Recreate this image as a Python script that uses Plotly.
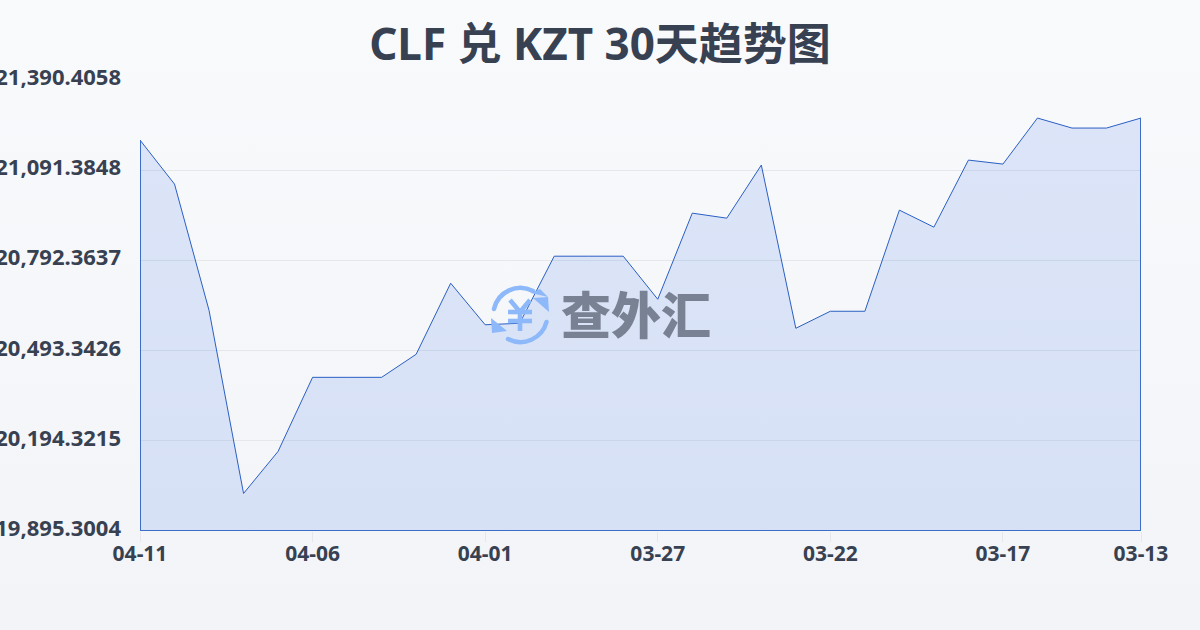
import base64
import plotly.graph_objects as go

dates = ["04-11","04-10","04-09","04-08","04-07","04-06","04-05","04-04","04-03","04-02",
         "04-01","03-31","03-30","03-29","03-28","03-27","03-26","03-25","03-24","03-23",
         "03-22","03-21","03-20","03-19","03-18","03-17","03-16","03-15","03-14","03-13"]
values = [21192.72,21046.53,20627.91,20019.89,20159.44,20405.30,20405.30,20405.30,20481.72,20717.61,
          20579.73,20584.71,20807.31,20807.31,20807.31,20664.45,20950.18,20933.56,21109.66,20568.10,
          20624.58,20624.58,20960.15,20903.66,21126.27,21112.98,21265.82,21232.59,21232.59,21265.82]
y_ticks = [19895.3004,20194.3215,20493.3426,20792.3637,21091.3848,21390.4058]
x_ticks = ["04-11","04-06","04-01","03-27","03-22","03-17","03-13"]
title_text = "CLF 兑 KZT 30天趋势图"
watermark = "查外汇"

def uri(svg):
    return "data:image/svg+xml;base64," + base64.b64encode(svg.encode()).decode()

bg = uri('<svg xmlns="http://www.w3.org/2000/svg" width="1200" height="630" preserveAspectRatio="none">'
         '<defs><linearGradient id="g" x1="0" y1="0" x2="0" y2="1"><stop offset="0" stop-color="#f9fafc"/>'
         '<stop offset="1" stop-color="#f2f4f7"/></linearGradient></defs><rect width="1200" height="630" fill="url(#g)"/></svg>')
logo = uri('<svg xmlns="http://www.w3.org/2000/svg" width="60" height="60" viewBox="0 0 60 60">'
           '<g fill="none" stroke="#8db8fa" stroke-width="4.5" stroke-linecap="round">'
           '<path d="M4 24 A27 27 0 0 1 43 6"/><path d="M56.5 37 A27 27 0 0 1 18 54"/>'
           '<g stroke-width="4.6" stroke-linecap="butt"><path d="M20 15 L30 27 L40 15"/><path d="M18 27 H42"/><path d="M18 36 H42"/><path d="M30 27 V46"/></g></g>'
           '<path d="M43 13 L59 27 L58 12 Z M41 8 L58 12 L50 4 Z" fill="#8db8fa"/>'
           '<path d="M17 46 L1 33 L2 48 Z" fill="#8db8fa"/></svg>')

# margins leave a 1001x451 paper box; the y domain puts the plot top on a half pixel
L, T, W, H = 140, 80, 1001, 451
px = lambda x: (x - L) / W
py = lambda y: 1 - (y - T) / H

fig = go.Figure()
fig.add_trace(go.Scatter(
    x=dates + [dates[-1], dates[0], dates[0]],
    y=values + [y_ticks[0], y_ticks[0], values[0]],
    mode="lines", fill="toself",
    line=dict(color="#2a5fc4", width=1, simplify=False),
    fillcolor="rgba(37,99,235,0.135)",
    hoverinfo="skip", showlegend=False,
))
# closing edges of the area sit on the plot boundary, where half the stroke is clipped
fig.add_trace(go.Scatter(
    x=[dates[-1], dates[-1], dates[0], dates[0]],
    y=[values[-1], y_ticks[0], y_ticks[0], values[0]],
    mode="lines", line=dict(color="#3c6dc9", width=2, simplify=False),
    hoverinfo="skip", showlegend=False,
))
FONT = "'Noto Sans', 'Noto Sans CJK SC', sans-serif"
fig.update_layout(
    width=1200, height=630, autosize=False,
    margin=dict(l=L, r=1200 - L - W, t=T, b=630 - T - H),
    paper_bgcolor="#f5f7fa", plot_bgcolor="rgba(0,0,0,0)",
    title=dict(text=title_text, x=0.5, xanchor="center", y=0.929, yanchor="middle",
               font=dict(family=FONT, size=44, weight=700, color="#374151")),
    xaxis=dict(type="category", categoryorder="array", categoryarray=dates, range=[0, len(dates) - 1],
               tickmode="array", tickvals=x_ticks, ticktext=x_ticks, automargin=False,
               ticks="outside", ticklen=10, tickcolor="#e5e7eb", tickwidth=1, ticklabelstandoff=-6,
               showgrid=False, showline=False, zeroline=False,
               tickfont=dict(family=FONT, size=21, weight=700, color="#374151")),
    yaxis=dict(range=[y_ticks[0], y_ticks[-1]], tickmode="array", tickvals=y_ticks, automargin=False,
               domain=[0, py(80.5)],
               tickformat=",.4f", showgrid=True, gridcolor="#e5e7eb", gridwidth=1,
               ticks="", showline=False, zeroline=False, ticklabelstandoff=18, ticklabelshift=-3,
               tickfont=dict(family=FONT, size=22, weight=700, color="#374151")),
    images=[
        dict(source=bg, xref="paper", yref="paper", x=px(0), y=py(0), sizex=1200 / W, sizey=630 / H,
             xanchor="left", yanchor="top", sizing="stretch", layer="below"),
        dict(source=logo, xref="paper", yref="paper", x=px(490), y=py(285),
             sizex=60 / W, sizey=60 / H, xanchor="left", yanchor="top", sizing="stretch", layer="above"),
    ],
    annotations=[dict(text=watermark, xref="paper", yref="paper", x=px(636),
                      y=py(312), showarrow=False, xanchor="center", yanchor="middle",
                      font=dict(family="'Noto Sans CJK SC'", size=50, weight=900, color="rgba(55,65,81,0.6)"))],
)
fig.write_html("out.html", config={"displayModeBar": False},
               post_script="document.body.style.margin='0';document.body.style.background='#f5f7fa';document.body.style.overflow='hidden';")
